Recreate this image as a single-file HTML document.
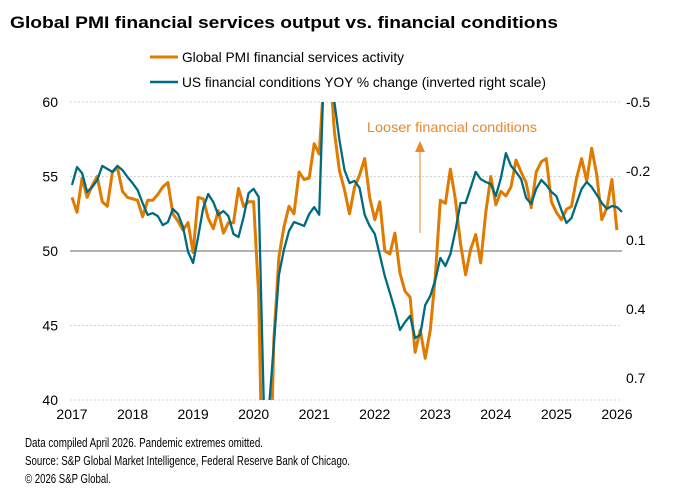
<!DOCTYPE html>
<html><head><meta charset="utf-8"><style>
html,body{margin:0;padding:0;background:#fff;width:684px;height:497px;overflow:hidden;}
svg{display:block;font-family:"Liberation Sans Narrow","Liberation Sans",sans-serif;}
</style></head><body>
<svg id="chart" width="684" height="497" viewBox="0 0 684 497">
<text x="10" y="28" font-family="Liberation Sans, sans-serif" font-weight="bold" font-size="17" fill="#000" textLength="548" lengthAdjust="spacingAndGlyphs">Global PMI financial services output vs. financial conditions</text>
<g>
<line x1="150" y1="57" x2="178" y2="57" stroke="#e07b00" stroke-width="3"/>
<text x="182" y="62" font-size="14" fill="#000" textLength="222" lengthAdjust="spacingAndGlyphs">Global PMI financial services activity</text>
<line x1="150" y1="82" x2="178" y2="82" stroke="#006b80" stroke-width="2.5"/>
<text x="182" y="87" font-size="14" fill="#000" textLength="364" lengthAdjust="spacingAndGlyphs">US financial conditions YOY % change (inverted right scale)</text>
</g>
<g id="grid"></g>
<g id="axes"></g>
<g>
<text x="367" y="132" font-size="14" fill="#e8892b" textLength="170" lengthAdjust="spacingAndGlyphs">Looser financial conditions</text>
<line x1="420" y1="233" x2="420" y2="150" stroke="#e8892b" stroke-width="1"/>
<polygon points="415,152 425,152 420,141" fill="#e8892b"/>
</g>
<defs><clipPath id="plotclip"><rect x="70" y="102" width="555" height="298"/></clipPath></defs>
<g id="series" clip-path="url(#plotclip)"></g>
<g font-size="13" fill="#000">
<text x="25" y="447" textLength="238" lengthAdjust="spacingAndGlyphs">Data compiled April 2026. Pandemic extremes omitted.</text>
<text x="25" y="465" textLength="325" lengthAdjust="spacingAndGlyphs">Source: S&amp;P Global Market Intelligence, Federal Reserve Bank of Chicago.</text>
<text x="25" y="483" textLength="86" lengthAdjust="spacingAndGlyphs">© 2026 S&amp;P Global.</text>
</g>
</svg>
<script>
const years = [2017,2018,2019,2020,2021,2022,2023,2024,2025,2026];
const leftTicks = [40,45,50,55,60];
const rightTicks = [-0.5,-0.2,0.1,0.4,0.7];
const pmiValues = [53.6,52.6,54.9,53.6,54.4,55.0,53.3,53.0,55.3,55.6,54.0,53.6,
53.5,53.4,52.3,53.4,53.4,53.8,54.3,54.6,52.5,52.0,51.4,51.9,
49.9,53.6,53.5,52.2,51.5,52.7,51.2,51.9,51.9,54.2,53.0,53.3,
53.3,47,30,30,44,49.6,51.6,53.0,52.5,55.3,54.8,54.9,
57.2,56.5,62,63,58,55.4,54.1,52.5,54.3,55.1,56.2,53.6,
52.1,53.3,50.0,49.8,51.2,48.5,47.3,46.9,43.2,44.7,42.8,44.7,
48.3,53.4,53.2,55.5,53.4,50.5,48.4,50.1,51.1,49.2,52.6,55.0,
53.1,54.0,53.7,54.3,56.1,55.3,54.6,52.9,55.3,56.0,56.2,53.3,
52.6,52.1,52.8,53.0,54.9,56.2,54.7,56.9,55.1,52.1,52.9,54.8,
51.4];
const finValues = [-0.139,-0.217,-0.191,-0.109,-0.130,-0.16,-0.222,-0.209,-0.196,-0.222,-0.204,-0.174,
-0.148,-0.117,-0.061,-0.009,-0.017,-0.004,0.035,0.022,-0.035,-0.013,0.043,0.152,
0.2,0.087,-0.039,-0.1,-0.065,-0.009,-0.026,-0.004,0.074,0.087,0.0,-0.104,
-0.122,-0.087,0.8,0.84,0.557,0.252,0.143,0.061,0.022,0.03,0.039,-0.013,
-0.043,-0.01,-0.7,-0.75,-0.5,-0.335,-0.204,-0.148,-0.157,-0.126,-0.009,0.039,
0.074,0.165,0.257,0.33,0.404,0.491,0.457,0.43,0.526,0.513,0.383,0.343,
0.274,0.178,0.213,0.161,0.057,-0.061,-0.061,-0.126,-0.196,-0.165,-0.152,-0.143,
-0.091,-0.17,-0.278,-0.222,-0.196,-0.165,-0.083,-0.057,-0.122,-0.161,-0.139,-0.109,
-0.091,-0.030,0.026,0.004,-0.061,-0.122,-0.152,-0.13,-0.096,-0.061,-0.035,-0.048,
-0.043,-0.022];

const NS='http://www.w3.org/2000/svg';
const X0=72, PX_PER_YEAR=60.55;
function xScale(m){ return X0 + m*PX_PER_YEAR/12; }
function yLeft(v){ return 251 - (v-50)*14.9; }
function yRight(v){ return 102 + (v+0.5)*230; }
function mk(tag, attrs, parent){ const e=document.createElementNS(NS,tag); for(const k in attrs) e.setAttribute(k,attrs[k]); parent.appendChild(e); return e; }

const grid=document.getElementById('grid');
const axes=document.getElementById('axes');
leftTicks.forEach(t=>{
  const y=yLeft(t);
  const l=mk('line',{x1:70,x2:622,y1:y,y2:y,stroke: t===50?'#9a9a9a':'#d4d4d4','stroke-width':t===50?1.5:1,'stroke-dasharray':t===50?'none':'2,2'},grid);
  
  
  const tx=mk('text',{x:58,y:y+5,'text-anchor':'end','font-size':14,fill:'#000'},axes);
  tx.textContent=t;
  
  
});
rightTicks.forEach(t=>{
  const y=yRight(t);
  const tx=mk('text',{x:626,y:y+5,'font-size':14,fill:'#000'},axes);
  tx.textContent=t;
  
  
});
years.forEach((yr,i)=>{
  const tx=mk('text',{x:xScale(i*12),y:419,'text-anchor':'middle','font-size':14,fill:'#000'},axes);
  tx.textContent=yr;
  
  
});

const series=document.getElementById('series');
function path(vals, ys){ return vals.map((v,i)=>(i?'L':'M')+xScale(i).toFixed(1)+','+ys(v).toFixed(1)).join(''); }
const pP=mk('path',{d:path(pmiValues,yLeft),fill:'none',stroke:'#e07b00','stroke-width':3,'stroke-linejoin':'round'},series);


const pF=mk('path',{d:path(finValues,yRight),fill:'none',stroke:'#006b80','stroke-width':2.3,'stroke-linejoin':'round'},series);


</script>
</body></html>
